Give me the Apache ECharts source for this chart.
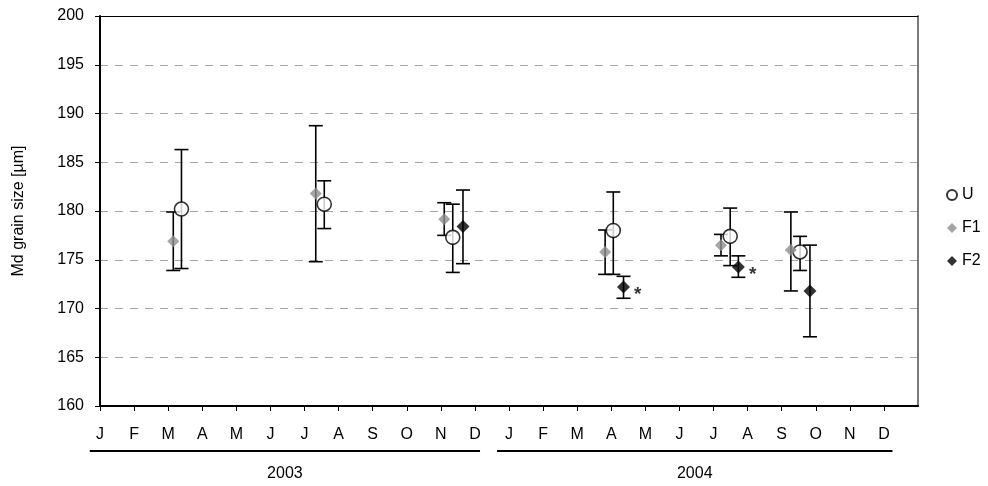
<!DOCTYPE html>
<html>
<head>
<meta charset="utf-8">
<script src="https://cdn.jsdelivr.net/npm/echarts@6/dist/echarts.min.js"></script>
<style>
html,body{margin:0;padding:0;background:#fff;}
#chart{width:988px;height:486px;}
</style>
</head>
<body>
<div id="chart"></div>
<script>
// Month tick labels (two years)
const monthLabels = ['J','F','M','A','M','J','J','A','S','O','N','D','J','F','M','A','M','J','J','A','S','O','N','D'];
const years = ['2003', '2004'];

// Sampling time in months since 1 Jan 2003
const uTime  = [2.39, 6.58, 10.35, 15.06, 18.49, 20.54];
const f1Time = [2.15, 6.33, 10.10, 14.82, 18.22, 20.27];
const f2Time = [10.65, 15.36, 18.73, 20.83];

// Median grain size [µm] with error-bar limits
const uMd    = [180.2, 180.7, 177.3, 178.0, 177.4, 175.8];
const uLow   = [174.1, 178.2, 173.7, 173.5, 174.4, 173.9];
const uHigh  = [186.3, 183.1, 180.7, 181.95, 180.3, 177.4];

const f1Md   = [176.9, 181.8, 179.15, 175.8, 176.5, 176.0];
const f1Low  = [173.9, 174.8, 177.5, 173.5, 175.4, 171.8];
const f1High = [179.9, 188.75, 180.85, 178.05, 177.6, 179.9];

const f2Md   = [178.4, 172.2, 174.25, 171.8];
const f2Low  = [174.6, 171.05, 173.2, 167.1];
const f2High = [182.15, 173.3, 175.4, 176.5];
const f2Sig  = [false, true, true, false];

const FONT = 'Liberation Sans, Arial, sans-serif';
const FS = 16;
const chart = echarts.init(document.getElementById('chart'));

function errSeries(name, t, lo, hi) {
  return {
    name: name + '_err',
    type: 'custom',
    z: 2,
    silent: true,
    data: t.map((x, i) => [x, lo[i], hi[i]]),
    renderItem: function (params, api) {
      const x = api.value(0);
      const pLo = api.coord([x, api.value(1)]);
      const pHi = api.coord([x, api.value(2)]);
      const hw = 7;
      const st = { stroke: '#000', lineWidth: 1.6 };
      return {
        type: 'group',
        children: [
          { type: 'line', shape: { x1: pLo[0], y1: pLo[1], x2: pHi[0], y2: pHi[1] }, style: st },
          { type: 'line', shape: { x1: pLo[0] - hw, y1: pLo[1], x2: pLo[0] + hw, y2: pLo[1] }, style: st },
          { type: 'line', shape: { x1: pHi[0] - hw, y1: pHi[1], x2: pHi[0] + hw, y2: pHi[1] }, style: st }
        ]
      };
    }
  };
}

const tickVals = monthLabels.map((_, i) => i);

const option = {
  animation: false,
  backgroundColor: '#fff',
  grid: { left: 100, right: 70, top: 16, bottom: 80 },
  legend: {
    orient: 'vertical',
    left: 941,
    top: 182,
    itemWidth: 10,
    itemHeight: 10,
    itemGap: 17,
    textStyle: { fontFamily: FONT, fontSize: FS, color: '#000', padding: [0, 0, 0, 0] },
    data: ['U', 'F1', 'F2']
  },
  xAxis: [{
    type: 'value',
    min: 0, max: 24, interval: 1,
    axisLine: { show: true, onZero: false, lineStyle: { color: '#000', width: 2 } },
    axisTick: { show: true, length: 5, customValues: tickVals, lineStyle: { color: '#000', width: 1 } },
    axisLabel: {
      customValues: tickVals,
      formatter: v => monthLabels[Math.round(v)] || '',
      fontFamily: FONT, fontSize: FS, color: '#000', margin: 21
    },
    splitLine: { show: false }
  }, {
    type: 'value', position: 'top',
    min: 0, max: 24,
    axisLine: { show: true, onZero: false, lineStyle: { color: '#000', width: 1 } },
    axisTick: { show: false }, axisLabel: { show: false }, splitLine: { show: false }
  }],
  yAxis: [{
    type: 'value',
    min: 160, max: 200, interval: 5,
    name: 'Md grain size [µm]',
    nameLocation: 'middle',
    nameGap: 73,
    nameTextStyle: { fontFamily: FONT, fontSize: FS, color: '#000' },
    axisLine: { show: true, onZero: false, lineStyle: { color: '#000', width: 2 } },
    axisTick: { show: true, length: 5, lineStyle: { color: '#000', width: 1 } },
    axisLabel: { fontFamily: FONT, fontSize: FS, color: '#000', margin: 16 },
    splitLine: { show: true, lineStyle: { color: '#a6a6a6', width: 1, type: [8, 7] } }
  }, {
    type: 'value', position: 'right',
    min: 160, max: 200,
    axisLine: { show: true, onZero: false, lineStyle: { color: '#7a7a7a', width: 2 } },
    axisTick: { show: false }, axisLabel: { show: false }, splitLine: { show: false }
  }],
  series: [
    errSeries('F1', f1Time, f1Low, f1High),
    errSeries('U', uTime, uLow, uHigh),
    errSeries('F2', f2Time, f2Low, f2High),
    {
      name: 'U', type: 'scatter', z: 3,
      symbol: 'circle', symbolSize: 14,
      itemStyle: { color: '#fff', borderColor: '#000', borderWidth: 1.6 },
      data: uTime.map((x, i) => [x, uMd[i]])
    },
    {
      name: 'F1', type: 'scatter', z: 4,
      symbol: 'diamond', symbolSize: 12,
      itemStyle: { color: '#8f8f8f' },
      data: f1Time.map((x, i) => [x, f1Md[i]])
    },
    {
      name: 'F2', type: 'scatter', z: 5,
      symbol: 'diamond', symbolSize: 13,
      itemStyle: { color: '#000' },
      data: f2Time.map((x, i) => ({
        value: [x, f2Md[i]],
        label: {
          show: f2Sig[i], formatter: '*', position: 'right', distance: 4, offset: [0, 8],
          fontFamily: FONT, fontSize: 19, fontWeight: 'bold', color: '#000'
        }
      }))
    }
  ]
};
chart.setOption(option);

// Year underlines and labels beneath month labels
const yearSpans = [[-0.3, 11.15], [11.65, 23.25]];
const g = [];
const yLine = 451;
yearSpans.forEach((s, i) => {
  const a = chart.convertToPixel({ xAxisIndex: 0 }, s[0]);
  const b = chart.convertToPixel({ xAxisIndex: 0 }, s[1]);
  g.push({ type: 'line', shape: { x1: a, y1: yLine, x2: b, y2: yLine }, style: { stroke: '#000', lineWidth: 2 } });
  g.push({ type: 'text', x: (a + b) / 2, y: yLine + 23,
    style: { text: years[i], font: FS + 'px ' + FONT, fill: '#000', align: 'center', verticalAlign: 'middle' } });
});
chart.setOption({ graphic: g });
</script>
</body>
</html>
